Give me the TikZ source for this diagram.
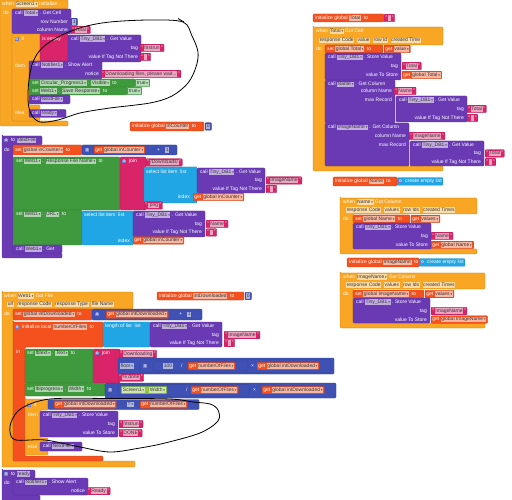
\documentclass[tikz,border=0pt]{standalone}
\usepackage{fontspec}
\setmainfont{Liberation Sans}
\newfontfamily\sym{DejaVu Sans}
\definecolor{evt}{HTML}{F8A623}
\definecolor{cmp}{HTML}{6A3AB5}
\definecolor{prc}{HTML}{6A3AB5}
\definecolor{txt}{HTML}{D9246A}
\definecolor{grn}{HTML}{3F9A3D}
\definecolor{lgr}{HTML}{8DC63F}
\definecolor{var}{HTML}{F4511E}
\definecolor{mth}{HTML}{3F51B5}
\definecolor{lst}{HTML}{21A6E5}
\definecolor{lgc}{HTML}{4CAF50}
\newcount\ndc
\def\fcol{cmp}
\newcommand\bfont{\fontsize{5.0}{5.4}\selectfont}
\newcommand\dd{\,{\sym\fontsize{3.2}{3.2}\selectfont ▾}}
\newcommand\Fd[1]{{\setlength\fboxsep{0.6pt}\colorbox{white!58!\fcol}{\textcolor{black!78}{\vphantom{Ag}#1}}}}
\newcommand\gear{{\setlength\fboxsep{0.4pt}\colorbox{mth!75!white}{\textcolor{white}{\sym\fontsize{3.7}{3.7}\selectfont ⚙}}}}
\tikzset{
 lbl/.style={inner sep=0pt, text=white, font=\bfont},
 blk/.style={rounded corners=1pt, line width=0.3pt},
 valb/.style={inner xsep=1.2pt, inner ysep=0.4pt, minimum height=7.5pt, rounded corners=0.8pt, text=white, font=\bfont, line width=0.3pt},
 annot/.style={line width=0.8pt, black},
}
\newcommand\Lb[5][west]{\global\advance\ndc by 1 \node[lbl,anchor=#1,name=t\the\ndc,execute at begin node={\def\fcol{#2}}] at (#3,#4) {#5};}
\newcommand\Vb[4]{\global\advance\ndc by 1 \node[valb,fill=#1,draw=#1!80!black,anchor=west,name=v\the\ndc,execute at begin node={\def\fcol{#1}}] at (#2,#3) {#4};}
\newcommand\Sb[3]{\Vb{txt}{#1}{#2}{"\,\Fd{#3}\,"}}
\newcommand\Rb[5]{\path[blk,fill=#1,draw=#1!80!black] (#2,#3) rectangle (#4,#5);}
\newcommand\Cb[9]{\path[blk,fill=#1,draw=#1!80!black] (#2,#3) -| (#4,#5) -| (#6,#7) -| (#8,#9) -| cycle;}
\begin{document}
\begin{tikzpicture}[x=1pt,y=-1pt]
\useasboundingbox (0,0) rectangle (512,500);
\fill[white] (0,0) rectangle (512,500);
% ===== when Screen1 Initialize
\Cb{evt}{0}{0}{68}{9}{12}{121}{68}{126}
\Lb{evt}{2}{4.5}{when \Fd{Screen1\dd} Initialize}
\Lb{evt}{3}{13}{do}
\Rb{cmp}{12}{9}{71}{34}
\Lb{cmp}{15}{13}{call \Fd{Total\dd} . Get Cell}
\Lb[east]{cmp}{68}{22}{row Number}
\Vb{mth}{71}{22}{\Fd{1}}
\Lb[east]{cmp}{68}{30}{column Name}
\Sb{71}{30}{Total}
\path[blk,fill=evt,draw=evt!80!black] (12,34) -| (40,61) -| (29,105) -| (40,109) -| (29,117) -| (40,121) -| cycle;
\Lb{evt}{14.5}{39}{\gear\ \ if}
\Rb{txt}{40}{34}{68}{62}
\Lb{txt}{42}{39}{is empty}
\Rb{cmp}{68}{35}{141}{62}
\Lb{cmp}{71}{39}{call \Fd{Tiny\_DB1\dd} . Get Value}
\Lb[east]{cmp}{138}{48}{tag}
\Lb[east]{cmp}{138}{57}{value If Tag Not There}
\Sb{140}{48}{firstrun}
\Sb{140}{57}{\hspace{2pt}}
\Lb{evt}{15}{66}{then}
\Rb{cmp}{29}{61}{102}{79}
\Lb{cmp}{32}{65}{call \Fd{Notifier1\dd} . Show Alert}
\Lb[east]{cmp}{99}{74}{notice}
\Sb{101}{74}{Downloading files, please wait...}
\Rb{grn}{29}{79}{135}{87}
\Lb{grn}{32}{83}{set \Fd{Circular\_Progress1\dd} . \Fd{Visible\dd} \ to}
\Vb{lgc}{135}{83}{\Fd{true\dd}}
\Rb{grn}{29}{87}{127}{95}
\Lb{grn}{32}{91}{set \Fd{Web1\dd} . \Fd{Save Response\dd} \ to}
\Vb{lgc}{127}{91}{\Fd{true\dd}}
\Rb{cmp}{29}{95}{70}{104}
\Lb{cmp}{32}{99.5}{call \Fd{NextFile\dd}}
\Lb{evt}{15}{113}{else}
\Rb{cmp}{29}{109.5}{66}{117.5}
\Lb{cmp}{32}{113.5}{call \Fd{ready\dd}}
% ===== init Total
\Rb{var}{313}{14}{384}{22}
\Lb{var}{315}{18}{initialize global \Fd{Total} \ to}
\Sb{384}{18}{\hspace{2pt}}
% ===== when Total Got Cell
\Cb{evt}{313}{27}{443}{45}{325}{166}{443}{171}
\Lb{evt}{316}{31.5}{when \Fd{Total\dd} Got Cell}
\Lb{evt}{319}{40.5}{\Fd{response Code}\ \ \Fd{value}\ \ \Fd{row Id}\ \ \Fd{created Time}}
\Lb{evt}{316}{49}{do}
\Rb{var}{325}{45}{383}{53}
\Lb{var}{327}{49}{set \Fd{global Total\dd} \ to}
\Vb{var}{384}{49}{get \Fd{value\dd}}
\Rb{cmp}{325}{53}{401}{80}
\Lb{cmp}{328}{57.5}{call \Fd{Tiny\_DB1\dd} . Store Value}
\Lb[east]{cmp}{398}{66}{tag}
\Lb[east]{cmp}{398}{75}{value To Store}
\Sb{402}{66}{Total}
\Vb{var}{402}{75}{get \Fd{global Total\dd}}
\Rb{cmp}{325}{80}{395}{123}
\Lb{cmp}{328}{84.5}{call \Fd{Name\dd} . Get Column}
\Lb[east]{cmp}{392}{91}{column Name}
\Sb{394}{91}{Name}
\Lb[east]{cmp}{392}{100}{max Record}
\Rb{cmp}{396}{96}{467}{122}
\Lb{cmp}{399}{100}{call \Fd{Tiny\_DB1\dd} . Get Value}
\Lb[east]{cmp}{464}{109}{tag}
\Lb[east]{cmp}{464}{118}{value If Tag Not There}
\Sb{467}{109}{Total}
\Sb{467}{118}{\hspace{2pt}}
\Rb{cmp}{325}{123}{409}{166}
\Lb{cmp}{328}{127.5}{call \Fd{ImageName\dd} . Get Column}
\Lb[east]{cmp}{406}{136}{column Name}
\Sb{409}{136}{ImageName}
\Lb[east]{cmp}{406}{145}{max Record}
\Rb{cmp}{410}{141}{484}{166}
\Lb{cmp}{413}{145}{call \Fd{Tiny\_DB1\dd} . Get Value}
\Lb[east]{cmp}{481}{153.5}{tag}
\Lb[east]{cmp}{481}{162}{value If Tag Not There}
\Sb{485}{153.5}{Total}
\Sb{485}{162}{\hspace{2pt}}
% ===== init Name
\Rb{var}{333}{177}{397}{186}
\Lb{var}{335}{181.5}{initialize global \Fd{Name} \ to}
\Vb{lst}{397}{181.5}{\gear\ \ create empty list}
% ===== when Name Got Column
\Cb{evt}{340}{198}{477}{214}{353}{249}{477}{254}
\Lb{evt}{343}{202}{when \Fd{Name\dd} Got Column}
\Lb{evt}{346}{210}{\Fd{response Code}\ \ \Fd{values}\ \ \Fd{row Ids}\ \ \Fd{created Times}}
\Lb{evt}{343}{219}{do}
\Rb{var}{353}{215}{410}{223}
\Lb{var}{355}{219}{set \Fd{global Name\dd} \ to}
\Vb{var}{411}{219}{get \Fd{values\dd}}
\Rb{cmp}{353}{223}{431}{249}
\Lb{cmp}{356}{227.5}{call \Fd{Tiny\_DB1\dd} . Store Value}
\Lb[east]{cmp}{428}{236}{tag}
\Lb[east]{cmp}{428}{245}{value To Store}
\Sb{431}{236}{Name}
\Vb{var}{431}{245}{get \Fd{global Name\dd}}
% ===== init ImageName
\Rb{var}{347}{258}{419}{267}
\Lb{var}{349}{262.5}{initialize global \Fd{ImageName} \ to}
\Vb{lst}{419}{262.5}{\gear\ \ create empty list}
% ===== when ImageName Got Column
\Cb{evt}{340}{273}{485}{289}{353}{323}{485}{328}
\Lb{evt}{343}{277}{when \Fd{ImageName\dd} Got Column}
\Lb{evt}{346}{285}{\Fd{response Code}\ \ \Fd{values}\ \ \Fd{row Ids}\ \ \Fd{created Times}}
\Lb{evt}{343}{294}{do}
\Rb{var}{353}{290}{424}{298}
\Lb{var}{355}{294}{set \Fd{global ImageName\dd} \ to}
\Vb{var}{425}{294}{get \Fd{values\dd}}
\Rb{cmp}{353}{298}{430}{323}
\Lb{cmp}{356}{302}{call \Fd{Tiny\_DB1\dd} . Store Value}
\Lb[east]{cmp}{427}{311}{tag}
\Lb[east]{cmp}{427}{319.5}{value To Store}
\Sb{431}{311}{ImageName}
\Vb{var}{431}{319.5}{get \Fd{global ImageName\dd}}
% ===== init inCounter
\Rb{var}{130}{122}{204}{131}
\Lb{var}{132}{126.5}{initialize global \Fd{inCounter} \ to}
\Vb{mth}{205}{126.5}{\Fd{0}}
% ===== to NextFile
\Cb{prc}{2}{136}{42}{145}{13}{253}{62}{258}
\Lb{prc}{4}{140.5}{\gear\ \ to \Fd{NextFile}}
\Lb{prc}{4}{150}{do}
\Rb{var}{13}{145}{82}{155}
\Lb{var}{15}{150}{set \Fd{global inCounter\dd} \ to}
\Rb{mth}{82}{145}{177}{155}
\Lb{mth}{85}{150}{\gear}
\Vb{var}{94}{150}{get \Fd{global inCounter\dd}}
\Lb{mth}{157}{150}{+}
\Lb{mth}{165}{150}{\Fd{1}}
\Rb{grn}{13}{157}{120}{210}
\Lb{grn}{16}{161.5}{set \Fd{Web1\dd} . \Fd{Response File Name\dd} \ to}
\Rb{txt}{120}{157}{146}{210}
\Lb{txt}{122}{161.5}{\gear\ \ join}
\Sb{146}{162.5}{/Downloads/}
\Rb{lst}{144}{167}{197}{203}
\Lb{lst}{146}{172}{select list item \ list}
\Lb[east]{lst}{190}{197}{index}
\Rb{cmp}{197}{168}{265}{193}
\Lb{cmp}{200}{172}{call \Fd{Tiny\_DB1\dd} . Get Value}
\Lb[east]{cmp}{262}{180.5}{tag}
\Lb[east]{cmp}{262}{189}{value If Tag Not There}
\Sb{266}{180.5}{ImageName}
\Sb{266}{189}{\hspace{2pt}}
\Vb{var}{193}{197}{get \Fd{global inCounter\dd}}
\Sb{144}{205.5}{.png}
\Rb{grn}{13}{210}{82}{245}
\Lb{grn}{16}{214.5}{set \Fd{Web1\dd} . \Fd{URL\dd} \ to}
\Rb{lst}{82}{211}{133}{245}
\Lb{lst}{84}{215}{select list item \ list}
\Lb[east]{lst}{130}{240.5}{index}
\Rb{cmp}{133}{211}{205}{237}
\Lb{cmp}{136}{215}{call \Fd{Tiny\_DB1\dd} . Get Value}
\Lb[east]{cmp}{202}{224}{tag}
\Lb[east]{cmp}{202}{232.5}{value If Tag Not There}
\Sb{206}{224}{Name}
\Sb{206}{232.5}{\hspace{2pt}}
\Vb{var}{133}{240.5}{get \Fd{global inCounter\dd}}
\Rb{cmp}{13}{245}{62}{253}
\Lb{cmp}{16}{249}{call \Fd{Web1\dd} . Get}
% ===== when Web1 Got File
\Cb{evt}{2}{292}{133}{309}{13}{461}{135}{467}
\Lb{evt}{4}{296}{when \Fd{Web1\dd} Got File}
\Lb{evt}{7}{304.5}{\Fd{url}\ \ \Fd{response Code}\ \ \Fd{response Type}\ \ \Fd{file Name}}
\Lb{evt}{4}{314}{do}
\Rb{var}{157}{292}{244}{300}
\Lb{var}{159}{296}{initialize global \Fd{intDownloaded} \ to}
\Vb{mth}{245}{296}{\Fd{0}}
\Rb{var}{13}{309}{92}{320}
\Lb{var}{15}{314.5}{set \Fd{global intDownloaded\dd} \ to}
\Rb{mth}{92}{309}{202}{320}
\Lb{mth}{95}{314.5}{\gear}
\Vb{var}{106}{314.5}{get \Fd{global intDownloaded\dd}}
\Lb{mth}{179}{314.5}{+}
\Lb{mth}{187}{314.5}{\Fd{1}}
\path[blk,fill=var,draw=var!80!black] (13,322) -| (103,347) -| (25,456) -| (103,461) -| cycle;
\Lb{var}{15}{327}{\gear\ \ initialize local \Fd{numberOfFiles} \ to}
\Lb{var}{16}{352}{in}
\Rb{lst}{103}{322}{150}{347}
\Lb{lst}{105}{326.5}{length of list \ list}
\Rb{cmp}{150}{322}{222}{347}
\Lb{cmp}{153}{326.5}{call \Fd{Tiny\_DB1\dd} . Get Value}
\Lb[east]{cmp}{219}{335}{tag}
\Lb[east]{cmp}{219}{343}{value If Tag Not There}
\Sb{224}{335}{ImageName}
\Sb{224}{343}{\hspace{2pt}}
\Rb{grn}{25}{349}{93}{383}
\Lb{grn}{27}{353.5}{set \Fd{lblext\dd} . \Fd{Text\dd} \ to}
\Rb{txt}{93}{349}{120}{383}
\Lb{txt}{95}{353.5}{\gear\ \ join}
\Sb{119}{354}{Downloading}
\Rb{mth}{118}{358}{334}{374}
\Lb{mth}{120}{366}{\Fd{floor\dd}}
\Rb{mth}{140}{359.5}{331}{372.5}
\Lb{mth}{143}{366}{\gear}
\Rb{mth}{153}{361}{248}{371}
\Lb{mth}{163}{366}{\Fd{100}}
\Lb{mth}{181}{366}{/}
\Vb{var}{188}{366}{get \Fd{numberOfFiles\dd}}
\Lb{mth}{251}{366}{×}
\Vb{var}{257}{366}{get \Fd{global intDownloaded\dd}}
\Sb{118}{377.5}{\% done}
\Rb{grn}{25}{383}{105}{396}
\Lb{grn}{27}{389}{set \Fd{lblprogress\dd} . \Fd{Width\dd} \ to}
\Rb{mth}{105}{383}{336}{398}
\Lb{mth}{108}{390}{\gear}
\Rb{mth}{118}{384.5}{249}{396}
\Vb{lgr}{121}{390}{\Fd{Screen1\dd} . \Fd{Width\dd}}
\Lb{mth}{186}{390}{/}
\Vb{var}{191}{390}{get \Fd{numberOfFiles\dd}}
\Lb{mth}{253}{390}{×}
\Vb{var}{262}{390}{get \Fd{global intDownloaded\dd}}
\path[blk,fill=evt,draw=evt!80!black] (25,399) -| (48,410) -| (40,438) -| (48,442) -| (40,451) -| (48,455) -| cycle;
\Lb{evt}{27}{404.5}{\gear\ \ if}
\Rb{mth}{48}{399.5}{199}{409.5}
\Vb{var}{54}{404.5}{get \Fd{global intDownloaded\dd}}
\Lb{mth}{127}{404.5}{\Fd{=\dd}}
\Vb{var}{140}{404.5}{get \Fd{numberOfFiles\dd}}
\Lb{evt}{28}{415}{then}
\Rb{cmp}{40}{411}{118}{437}
\Lb{cmp}{43}{415.5}{call \Fd{Tiny\_DB1\dd} . Store Value}
\Lb[east]{cmp}{115}{424}{tag}
\Lb[east]{cmp}{115}{433}{value To Store}
\Sb{119}{424}{firstrun}
\Sb{119}{433}{DONE}
\Lb{evt}{28}{446.5}{else}
\Rb{cmp}{40}{442}{82}{451}
\Lb{cmp}{43}{446.5}{call \Fd{NextFile\dd}}
% ===== to ready
\Cb{prc}{2}{470}{35}{478}{13}{495}{40}{501}
\Lb{prc}{4}{474}{\gear\ \ to \Fd{ready}}
\Lb{prc}{4}{483}{do}
\Rb{cmp}{13}{478}{88}{495}
\Lb{cmp}{16}{482.5}{call \Fd{Notifier1\dd} . Show Alert}
\Lb[east]{cmp}{85}{491}{notice}
\Sb{87}{491}{Ready}
% ===== hand-drawn annotations
\draw[annot] plot[smooth cycle, tension=0.55] coordinates {(183,22) (150,20) (110,22) (83,27) (60,36) (42,48) (33,62) (29,80) (28,100) (31,114) (40,122) (58,120) (80,113) (110,108) (150,103) (172,96) (188,83) (196,67) (198,52) (192,36)};
\draw[annot] (178,18.5) -- (184,22);
\draw[annot] plot[smooth cycle, tension=0.55] coordinates {(193,402) (170,399) (110,398.5) (50,399) (22,408) (12,420) (10,432) (16,440) (45,440) (80,447) (110,452) (140,448) (165,443) (200,433) (218,421) (218,410) (210,404)};
\end{tikzpicture}
\end{document}
